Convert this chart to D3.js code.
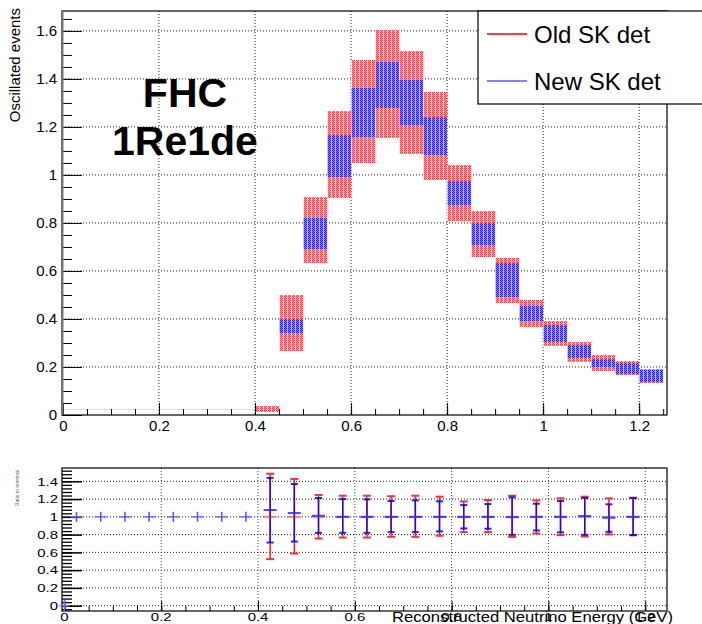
<!DOCTYPE html>
<html>
<head>
<meta charset="utf-8">
<script src="https://cdn.jsdelivr.net/npm/d3@7"></script>
<style>
  body { margin: 0; background: #fff; }
  svg { display: block; font-family: "Liberation Sans", Arial, Helvetica, sans-serif; }
</style>
</head>
<body>
<svg id="chart" width="702" height="624"></svg>
<script>
// Bin low edges (GeV), 0.05 wide
var binLow = [0, 0.05, 0.1, 0.15, 0.2, 0.25, 0.3, 0.35, 0.4, 0.45, 0.5, 0.55, 0.6,
              0.65, 0.7, 0.75, 0.8, 0.85, 0.9, 0.95, 1.0, 1.05, 1.1, 1.15, 1.2];
var binWidth = 0.05;

// Old SK det error band (red)
var oldLow  = [0.020, 0.020, 0.020, 0.020, 0.020, 0.020, 0.020, 0.020, 0.014, 0.268, 0.635, 0.904, 1.051,
               1.155, 1.088, 0.979, 0.810, 0.657, 0.465, 0.365, 0.288, 0.221, 0.182, 0.165, 0.132];
var oldHigh = [0.024, 0.024, 0.024, 0.024, 0.024, 0.024, 0.024, 0.024, 0.038, 0.501, 0.908, 1.265, 1.479,
               1.604, 1.518, 1.345, 1.042, 0.851, 0.654, 0.479, 0.390, 0.304, 0.249, 0.224, 0.193];

// New SK det error band (blue)
var newLow  = [null, null, null, null, null, null, null, null, null, 0.340, 0.693, 0.990, 1.160,
               1.278, 1.208, 1.083, 0.875, 0.707, 0.493, 0.393, 0.306, 0.238, 0.201, 0.171, 0.138];
var newHigh = [null, null, null, null, null, null, null, null, null, 0.399, 0.820, 1.165, 1.364,
               1.472, 1.396, 1.240, 0.975, 0.800, 0.635, 0.454, 0.374, 0.293, 0.235, 0.218, 0.188];

// Ratio panel
var ratioX = [0.025, 0.075, 0.125, 0.175, 0.225, 0.275, 0.325, 0.375, 0.425, 0.475, 0.525, 0.575,
              0.625, 0.675, 0.725, 0.775, 0.825, 0.875, 0.925, 0.975, 1.025, 1.075, 1.125, 1.175];
var ratioOldMid = [1, 1, 1, 1, 1, 1, 1, 1, 1, 1, 1, 1, 1, 1, 1, 1, 1, 1, 1, 1, 1, 1, 1, 1];
var ratioOldLo  = [1, 1, 1, 1, 1, 1, 1, 1, 0.524, 0.587, 0.756, 0.767,
                   0.767, 0.775, 0.775, 0.787, 0.828, 0.828, 0.775, 0.813, 0.794, 0.779, 0.802, 0.794];
var ratioOldHi  = [1, 1, 1, 1, 1, 1, 1, 1, 1.486, 1.427, 1.246, 1.238,
                   1.238, 1.232, 1.238, 1.227, 1.174, 1.190, 1.238, 1.186, 1.208, 1.227, 1.208, 1.216];
var ratioNewMid = [1, 1, 1, 1, 1, 1, 1, 1, 1.077, 1.043, 1.012, 1.0,
                   1.0, 1.0, 1.0, 1.0, 1.0, 1.0, 0.997, 1.0, 1.0, 1.009, 0.99, 1.0];
var ratioNewLo  = [1, 1, 1, 1, 1, 1, 1, 1, 0.711, 0.722, 0.820, 0.820,
                   0.820, 0.828, 0.828, 0.836, 0.869, 0.866, 0.798, 0.847, 0.825, 0.798, 0.832, 0.794];
var ratioNewHi  = [1, 1, 1, 1, 1, 1, 1, 1, 1.438, 1.370, 1.212, 1.200,
                   1.197, 1.178, 1.186, 1.175, 1.133, 1.144, 1.219, 1.148, 1.178, 1.212, 1.141, 1.212];
var strayX = [0];
var strayY = [0];

// Tick labels
var xTickVals = [0, 0.2, 0.4, 0.6, 0.8, 1, 1.2];
var xTickLabels = ['0', '0.2', '0.4', '0.6', '0.8', '1', '1.2'];
var yTopTickVals = [0, 0.2, 0.4, 0.6, 0.8, 1, 1.2, 1.4, 1.6];
var yTopTickLabels = ['0', '0.2', '0.4', '0.6', '0.8', '1', '1.2', '1.4', '1.6'];
var yBotTickVals = [0, 0.2, 0.4, 0.6, 0.8, 1, 1.2, 1.4];
var yBotTickLabels = ['0', '0.2', '0.4', '0.6', '0.8', '1', '1.2', '1.4'];
var legendLabels = ['Old SK det', 'New SK det'];
var legendColors = ['#ff0000', '#5555ff'];

var svg = d3.select('#chart');

// ---------- patterns ----------
var defs = svg.append('defs');
function makePattern(id, dark, light, stripe) {
  var p = defs.append('pattern')
      .attr('id', id)
      .attr('patternUnits', 'userSpaceOnUse')
      .attr('x', 0).attr('y', 0)
      .attr('width', 4).attr('height', 2);
  p.append('rect').attr('width', 4).attr('height', 2).attr('fill', light);
  [[0, 0], [2, 0], [1, 1]].forEach(function(c) {
    p.append('rect').attr('x', c[0]).attr('y', c[1]).attr('width', 1).attr('height', 1).attr('fill', dark);
  });
  p.append('rect').attr('x', 3).attr('y', 0).attr('width', 1).attr('height', 2).attr('fill', stripe);
}
makePattern('redFill', '#ff3d3d', '#ffa4a4', '#ffdede');
makePattern('blueFill', '#1c1cf4', '#9382ee', '#c4c0ff');

// ---------- top panel ----------
var xTop = d3.scaleLinear().domain([-0.002, 1.258]).range([62, 667]);
var yTop = d3.scaleLinear().domain([0, 1.683]).range([415, 11]);

var topPanel = svg.append('g');

// grid
topPanel.append('g').selectAll('line').data(xTickVals.slice(1))
  .enter().append('line')
    .attr('x1', function(d) { return xTop(d); }).attr('x2', function(d) { return xTop(d); })
    .attr('y1', 11).attr('y2', 415)
    .attr('stroke', '#222').attr('stroke-dasharray', '1,2');
topPanel.append('g').selectAll('line').data(yTopTickVals.slice(1))
  .enter().append('line')
    .attr('x1', 62).attr('x2', 667)
    .attr('y1', function(d) { return yTop(d); }).attr('y2', function(d) { return yTop(d); })
    .attr('stroke', '#222').attr('stroke-dasharray', '1,2');

// bands
topPanel.append('g').selectAll('rect').data(binLow)
  .enter().append('rect')
    .attr('x', function(d) { return xTop(d); })
    .attr('width', function(d) { return xTop(d + binWidth) - xTop(d); })
    .attr('y', function(d, i) { return yTop(oldHigh[i]); })
    .attr('height', function(d, i) { return Math.max(1, yTop(oldLow[i]) - yTop(oldHigh[i])); })
    .attr('fill', 'url(#redFill)')
    .attr('opacity', function(d, i) { return oldHigh[i] - oldLow[i] < 0.01 ? 0.35 : 1; })
    .attr('shape-rendering', 'crispEdges');
topPanel.append('g').selectAll('rect').data(binLow.filter(function(d, i) { return newLow[i] !== null; }))
  .enter().append('rect')
    .attr('x', function(d) { return xTop(d); })
    .attr('width', function(d) { return xTop(d + binWidth) - xTop(d); })
    .attr('y', function(d) { return yTop(newHigh[binLow.indexOf(d)]); })
    .attr('height', function(d) {
      var i = binLow.indexOf(d);
      return yTop(newLow[i]) - yTop(newHigh[i]);
    })
    .attr('fill', 'url(#blueFill)')
    .attr('shape-rendering', 'crispEdges');

// axes (ticks point inward)
topPanel.append('g').attr('transform', 'translate(0,415)')
  .call(d3.axisBottom(xTop).tickValues(d3.range(0, 1.26, 0.05)).tickSize(-6).tickFormat(''))
  .call(function(g) { g.select('.domain').remove(); });
topPanel.append('g').attr('transform', 'translate(0,415)')
  .call(d3.axisBottom(xTop).tickValues(xTickVals).tickSize(-12).tickPadding(0)
        .tickFormat(function(d, i) { return xTickLabels[i]; }))
  .call(function(g) {
    g.select('.domain').remove();
    g.selectAll('text').attr('y', 16).attr('dy', 0).attr('font-size', 15).attr('fill', '#000')
      .attr('font-family', '"Liberation Sans", Arial, sans-serif');
  });
topPanel.append('g').attr('transform', 'translate(62,0)')
  .call(d3.axisLeft(yTop).tickValues(d3.range(0, 1.68, 0.05)).tickSize(-10).tickFormat(''))
  .call(function(g) { g.select('.domain').remove(); });
topPanel.append('g').attr('transform', 'translate(62,0)')
  .call(d3.axisLeft(yTop).tickValues(yTopTickVals).tickSize(-20).tickPadding(5)
        .tickFormat(function(d, i) { return yTopTickLabels[i]; }))
  .call(function(g) {
    g.select('.domain').remove();
    g.selectAll('text').attr('font-size', 15).attr('fill', '#000')
      .attr('font-family', '"Liberation Sans", Arial, sans-serif');
  });

// frame
topPanel.append('rect').attr('x', 62).attr('y', 11).attr('width', 605).attr('height', 404)
  .attr('fill', 'none').attr('stroke', '#000').attr('stroke-width', 1.2);
topPanel.append('line').attr('x1', 62.5).attr('x2', 62.5).attr('y1', 11).attr('y2', 415)
  .attr('stroke', '#777').attr('stroke-width', 2);

// y title
topPanel.append('text')
  .attr('transform', 'translate(19.5,8) rotate(-90)')
  .attr('text-anchor', 'end').attr('font-size', 15)
  .text('Oscillated events');

// FHC label
topPanel.append('text').attr('x', 185).attr('y', 107).attr('text-anchor', 'middle')
  .attr('font-size', 41).attr('font-weight', 'bold').text('FHC');
topPanel.append('text').attr('x', 185).attr('y', 155).attr('text-anchor', 'middle')
  .attr('font-size', 41).attr('font-weight', 'bold').text('1Re1de');

// legend
var legend = svg.append('g');
legend.append('rect').attr('x', 478).attr('y', 11).attr('width', 240).attr('height', 93)
  .attr('fill', '#fff').attr('stroke', '#000').attr('stroke-width', 1.2);
legend.selectAll('line').data(legendLabels)
  .enter().append('line')
    .attr('x1', 487).attr('x2', 527)
    .attr('y1', function(d, i) { return 34 + i * 47; })
    .attr('y2', function(d, i) { return 34 + i * 47; })
    .attr('stroke', function(d, i) { return legendColors[i]; })
    .attr('stroke-width', 1.5);
legend.selectAll('text').data(legendLabels)
  .enter().append('text')
    .attr('x', 534)
    .attr('y', function(d, i) { return 43 + i * 47; })
    .attr('font-size', 24)
    .text(function(d) { return d; });

// ---------- ratio panel ----------
var xBot = d3.scaleLinear().domain([-0.005, 1.245]).range([62, 667]);
var yBot = d3.scaleLinear().domain([-0.06, 1.55]).range([611, 468]);

var botPanel = svg.append('g');

botPanel.append('g').selectAll('line').data(xTickVals.slice(1))
  .enter().append('line')
    .attr('x1', function(d) { return xBot(d); }).attr('x2', function(d) { return xBot(d); })
    .attr('y1', 468).attr('y2', 611)
    .attr('stroke', '#444').attr('stroke-dasharray', '1,2');
botPanel.append('g').selectAll('line').data(yBotTickVals)
  .enter().append('line')
    .attr('x1', 62).attr('x2', 667)
    .attr('y1', function(d) { return yBot(d); }).attr('y2', function(d) { return yBot(d); })
    .attr('stroke', '#222').attr('stroke-dasharray', '1,2');

// ticks
botPanel.append('g').attr('transform', 'translate(0,611)')
  .call(d3.axisBottom(xBot).tickValues(d3.range(0, 1.25, 0.05)).tickSize(-5).tickFormat(''))
  .call(function(g) { g.select('.domain').remove(); });
botPanel.append('g').attr('transform', 'translate(0,611)')
  .call(d3.axisBottom(xBot).tickValues(xTickVals).tickSize(-10).tickFormat(''))
  .call(function(g) { g.select('.domain').remove(); });
botPanel.append('g').attr('transform', 'translate(62,0)')
  .call(d3.axisLeft(yBot).tickValues(d3.range(-0.04, 1.55, 0.04)).tickSize(-10).tickFormat(''))
  .call(function(g) { g.select('.domain').remove(); g.selectAll('line').attr('stroke-width', 1.3); });
botPanel.append('g').attr('transform', 'translate(62,0)')
  .call(d3.axisLeft(yBot).tickValues(yBotTickVals).tickSize(-20).tickFormat(''))
  .call(function(g) { g.select('.domain').remove(); g.selectAll('line').attr('stroke-width', 1.5); });

// stretched tick labels
botPanel.append('g').selectAll('text').data(yBotTickVals)
  .enter().append('text')
    .attr('transform', function(d) { return 'translate(58,' + (yBot(d) + 4.2) + ') scale(1.3,1)'; })
    .attr('text-anchor', 'end').attr('font-size', 11.5)
    .text(function(d, i) { return yBotTickLabels[i]; });
botPanel.append('g').selectAll('text').data(xTickVals)
  .enter().append('text')
    .attr('transform', function(d) { return 'translate(' + xBot(d) + ',621) scale(1.3,1)'; })
    .attr('text-anchor', 'middle').attr('font-size', 11.5)
    .text(function(d, i) { return xTickLabels[i]; });

// frame
botPanel.append('rect').attr('x', 62).attr('y', 468).attr('width', 605).attr('height', 143)
  .attr('fill', 'none').attr('stroke', '#000').attr('stroke-width', 1.2);

// error bars: old (red)
var pts = botPanel.append('g');
ratioX.forEach(function(x, i) {
  var cx = xBot(x);
  var g = pts.append('g');
  if (ratioOldHi[i] !== ratioOldLo[i]) {
    g.append('line').attr('x1', cx).attr('x2', cx)
      .attr('y1', yBot(ratioOldLo[i])).attr('y2', yBot(ratioOldHi[i]))
      .attr('stroke', '#ff2020').attr('stroke-width', 1.5);
    [ratioOldLo[i], ratioOldHi[i]].forEach(function(v) {
      g.append('line').attr('x1', cx - 4).attr('x2', cx + 4)
        .attr('y1', yBot(v)).attr('y2', yBot(v))
        .attr('stroke', '#ff3030').attr('stroke-width', 2);
    });
    g.append('line').attr('x1', cx - 6.5).attr('x2', cx + 6.5)
      .attr('y1', yBot(ratioOldMid[i])).attr('y2', yBot(ratioOldMid[i]))
      .attr('stroke', '#ff8080').attr('stroke-width', 2);
  }
});

// error bars: new (blue)
ratioX.forEach(function(x, i) {
  var cx = xBot(x);
  var g = pts.append('g');
  if (ratioNewHi[i] !== ratioNewLo[i]) {
    g.append('line').attr('x1', cx).attr('x2', cx)
      .attr('y1', yBot(ratioNewLo[i])).attr('y2', yBot(ratioNewHi[i]))
      .attr('stroke', '#0000ff').attr('stroke-width', 1.5).attr('stroke-opacity', 0.85);
    [ratioNewLo[i], ratioNewHi[i]].forEach(function(v) {
      g.append('line').attr('x1', cx - 3.5).attr('x2', cx + 3.5)
        .attr('y1', yBot(v)).attr('y2', yBot(v))
        .attr('stroke', '#0000ff').attr('stroke-width', 2).attr('stroke-opacity', 0.85);
    });
    g.append('line').attr('x1', cx - 6.5).attr('x2', cx + 6.5)
      .attr('y1', yBot(ratioNewMid[i])).attr('y2', yBot(ratioNewMid[i]))
      .attr('stroke', '#2a2aff').attr('stroke-width', 2).attr('stroke-opacity', 0.85);
  } else {
    g.append('line').attr('x1', cx - 6).attr('x2', cx + 6)
      .attr('y1', yBot(ratioNewMid[i])).attr('y2', yBot(ratioNewMid[i]))
      .attr('stroke', '#6f6fff').attr('stroke-width', 1.5);
    g.append('line').attr('x1', cx).attr('x2', cx)
      .attr('y1', yBot(ratioNewMid[i]) - 5).attr('y2', yBot(ratioNewMid[i]) + 5)
      .attr('stroke', '#5050ff').attr('stroke-width', 1.5);
  }
});

// stray marker at the origin
pts.selectAll('.stray').data(strayX)
  .enter().append('g').attr('class', 'stray')
  .each(function(d, i) {
    var cx = xBot(d), cy = yBot(strayY[i]);
    d3.select(this).append('line').attr('x1', cx - 5).attr('x2', cx + 5).attr('y1', cy).attr('y2', cy)
      .attr('stroke', '#6f6fff').attr('stroke-width', 1.5);
    d3.select(this).append('line').attr('x1', cx).attr('x2', cx).attr('y1', cy - 6).attr('y2', cy + 6)
      .attr('stroke', '#6f6fff').attr('stroke-width', 1.5);
  });

// titles
botPanel.append('text')
  .attr('transform', 'translate(19,470) rotate(-90)')
  .attr('text-anchor', 'end').attr('font-size', 5).attr('fill', '#666')
  .text('Ratio to nominal');
botPanel.append('text')
  .attr('x', 392).attr('y', 621.5)
  .attr('font-size', 14.5)
  .attr('textLength', 281).attr('lengthAdjust', 'spacingAndGlyphs')
  .text('Reconstructed Neutrino Energy (GeV)');
</script>
</body>
</html>
